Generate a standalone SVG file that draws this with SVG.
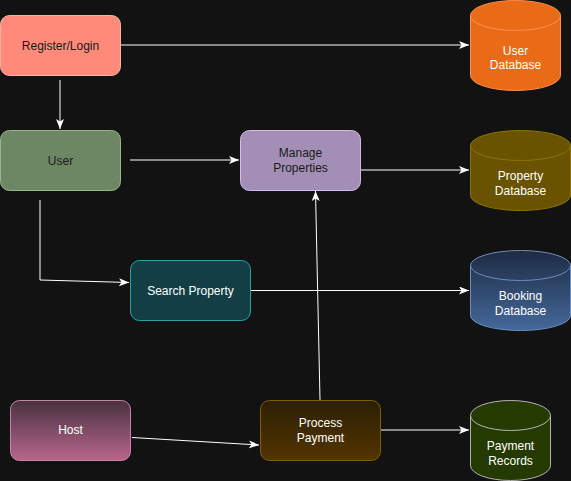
<svg xmlns="http://www.w3.org/2000/svg" width="571" height="481" viewBox="0 0 571 481">
<defs>
<marker id="arr" markerUnits="userSpaceOnUse" markerWidth="12" markerHeight="10" refX="10" refY="4" orient="auto">
<path d="M0,0 L10,4 L0,8 L2.5,4 Z" fill="#ffffff"/>
</marker>
<linearGradient id="gHost" x1="0" y1="0" x2="0" y2="1">
<stop offset="0" stop-color="#48323f"/>
<stop offset="1" stop-color="#b8668c"/>
</linearGradient>
<linearGradient id="gProc" x1="0" y1="0" x2="0" y2="1">
<stop offset="0" stop-color="#2c1f05"/>
<stop offset="1" stop-color="#533500"/>
</linearGradient>
<linearGradient id="gBook" x1="0" y1="0" x2="0" y2="1">
<stop offset="0" stop-color="#1e2b42"/>
<stop offset="1" stop-color="#44699b"/>
</linearGradient>
</defs>
<style>
text{font-family:"Liberation Sans",Arial,sans-serif;font-size:12px;text-anchor:middle}
.dk{fill:#1a1a1a}
.lt{fill:#ffffff}
.edge{fill:none;stroke:#ffffff;stroke-width:1;marker-end:url(#arr)}
</style>
<rect width="571" height="481" fill="#121212"/>
<g id="connectors">
<path class="edge" d="M120.5,45 L469,45"/>
<path class="edge" d="M60,80 L60,129"/>
<path class="edge" d="M130,160 L239,160"/>
<path class="edge" d="M360.5,170 L469,170"/>
<path class="edge" d="M40,200 L40,280 L129,282.5"/>
<path class="edge" d="M250.5,290.5 L469,290.5"/>
<path class="edge" d="M320,400 L315.5,191"/>
<path class="edge" d="M132,437.5 L259,445"/>
<path class="edge" d="M380.5,430 L469,430"/>
</g>
<g id="register">
<rect x="0.5" y="15.5" width="120" height="60" rx="9" fill="#ff8a7a" stroke="#ffb0a4"/>
<text class="dk" x="60.5" y="49.5">Register/Login</text>
</g>
<g id="user">
<rect x="0.5" y="130.5" width="120" height="60" rx="9" fill="#6d8764" stroke="#97b68c"/>
<text class="dk" x="60.5" y="164.5">User</text>
</g>
<g id="manage">
<rect x="240.5" y="130.5" width="120" height="60" rx="9" fill="#a38fb5" stroke="#d2bbea"/>
<text class="dk" x="300.5" y="157">Manage</text>
<text class="dk" x="300.5" y="171.5">Properties</text>
</g>
<g id="search">
<rect x="130.5" y="260.5" width="120" height="60" rx="9" fill="#133f44" stroke="#2c9fa4"/>
<text class="lt" x="190.5" y="294.5">Search Property</text>
</g>
<g id="host">
<rect x="10.5" y="400.5" width="120" height="60" rx="9" fill="url(#gHost)" stroke="#c784a9"/>
<text class="lt" x="70.5" y="434">Host</text>
</g>
<g id="process">
<rect x="260.5" y="400.5" width="120" height="60" rx="9" fill="url(#gProc)" stroke="#7d5e00"/>
<text class="lt" x="320.5" y="427">Process</text>
<text class="lt" x="320.5" y="441.5">Payment</text>
</g>
<g id="userdb">
<path d="M470.5,15.5 A45,15 0 0 1 560.5,15.5 V75.5 A45,15 0 0 1 470.5,75.5 Z" fill="#e96b17" stroke="#ff8f4f"/>
<path d="M470.5,15.5 A45,15 0 0 0 560.5,15.5" fill="none" stroke="#ff8f4f"/>
<text class="lt" x="515.5" y="54.5">User</text>
<text class="lt" x="515.5" y="69">Database</text>
</g>
<g id="propdb">
<path d="M470.5,145.5 A50,15 0 0 1 570.5,145.5 V195.5 A50,15 0 0 1 470.5,195.5 Z" fill="#695300" stroke="#8f7300"/>
<path d="M470.5,145.5 A50,15 0 0 0 570.5,145.5" fill="none" stroke="#8f7300"/>
<text class="lt" x="520.5" y="180">Property</text>
<text class="lt" x="520.5" y="195">Database</text>
</g>
<g id="bookdb">
<path d="M470.5,265.5 A50,15 0 0 1 570.5,265.5 V315.5 A50,15 0 0 1 470.5,315.5 Z" fill="url(#gBook)" stroke="#6c8ebf"/>
<path d="M470.5,265.5 A50,15 0 0 0 570.5,265.5" fill="none" stroke="#6c8ebf"/>
<text class="lt" x="520.5" y="300">Booking</text>
<text class="lt" x="520.5" y="315">Database</text>
</g>
<g id="paydb">
<path d="M470.5,415.5 A40,15 0 0 1 550.5,415.5 V465.5 A40,15 0 0 1 470.5,465.5 Z" fill="#243a00" stroke="#b3b3b3"/>
<path d="M470.5,415.5 A40,15 0 0 0 550.5,415.5" fill="none" stroke="#b3b3b3"/>
<text class="lt" x="510.5" y="450">Payment</text>
<text class="lt" x="510.5" y="464.5">Records</text>
</g>
</svg>
